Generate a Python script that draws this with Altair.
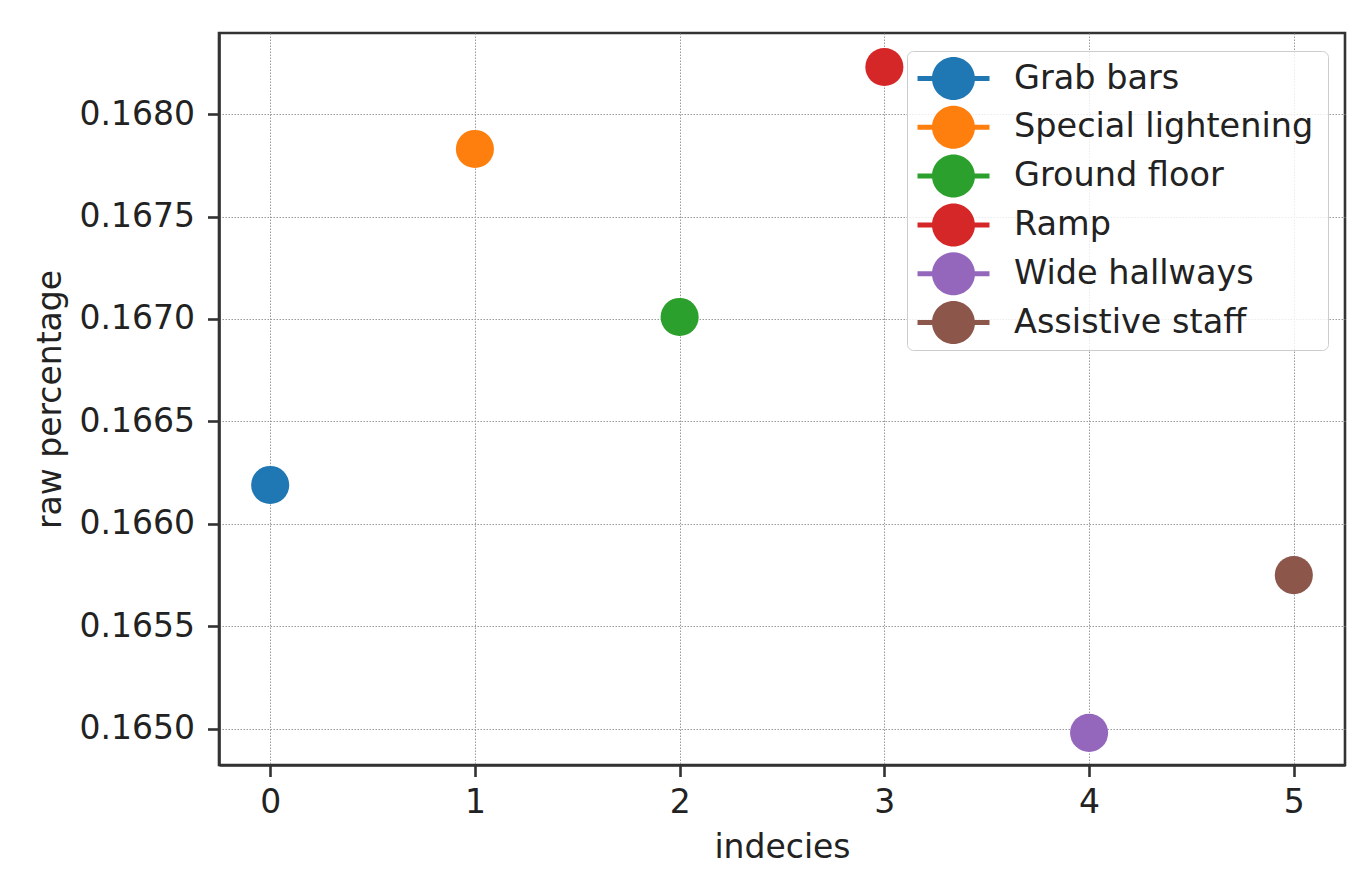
import altair as alt
import pandas as pd

categories = ["Grab bars", "Special lightening", "Ground floor", "Ramp", "Wide hallways", "Assistive staff"]
indices = [0, 1, 2, 3, 4, 5]
values = [0.16619, 0.16783, 0.16701, 0.16823, 0.16498, 0.16575]
colors = ["#1f77b4", "#ff7f0e", "#2ca02c", "#d62728", "#9467bd", "#8c564b"]
y_ticks = [0.1650, 0.1655, 0.1660, 0.1665, 0.1670, 0.1675, 0.1680]
x_ticks = [0, 1, 2, 3, 4, 5]

df = pd.DataFrame({"index": indices, "value": values, "category": categories})

FONT = "DejaVu Sans"
TXT = "#222222"
legend_symbol = ("M -1.674 -0.116 H 1.674 V 0.116 H -1.674 Z "
                 "M 1 0 A 1 1 0 1 1 -1 0 A 1 1 0 1 1 1 0 Z")

chart = alt.Chart(df).mark_circle(size=1452, opacity=1).encode(
    x=alt.X("index:Q",
            scale=alt.Scale(domain=[-0.25, 5.25], nice=False, zero=False),
            axis=alt.Axis(title="indecies", values=x_ticks, format="d",
                          labelPadding=10, titlePadding=12)),
    y=alt.Y("value:Q",
            scale=alt.Scale(domain=[0.164823, 0.168396], nice=False, zero=False),
            axis=alt.Axis(title="raw percentage", values=y_ticks, format=".4f",
                          labelPadding=13, titlePadding=12)),
    color=alt.Color("category:N",
                    scale=alt.Scale(domain=categories, range=colors),
                    sort=categories,
                    legend=alt.Legend(
                        orient="none", legendX=688, legendY=18,
                        title="\u2800", titleOrient="right", titleFontSize=11,
                        titlePadding=0, titleFont=FONT,
                        symbolType=legend_symbol, symbolSize=1849,
                        symbolStrokeWidth=0, symbolOffset=19,
                        labelFontSize=33.5, labelFont=FONT, labelColor=TXT,
                        labelOffset=39, labelLimit=500, rowPadding=5.8,
                        padding=6, fillColor="rgba(255,255,255,0.8)",
                        strokeColor="#cccccc", cornerRadius=6)),
).properties(
    width=1126, height=732,
    autosize=alt.AutoSizeParams(type="none"),
    padding={"left": 211, "top": 25, "right": 10, "bottom": 100},
).configure_view(
    stroke="#333333", strokeWidth=2.6
).configure_axis(
    labelFont=FONT, labelFontSize=33, labelColor=TXT,
    titleFont=FONT, titleFontSize=33, titleColor=TXT, titleFontWeight="normal",
    tickSize=11.5, tickWidth=2.6, tickColor="#333333",
    domainColor="#333333", domainWidth=2.6,
    grid=True, gridColor="#999999", gridDash=[1.5, 1.5], gridWidth=1,
)

chart.save("out.html", embed_options={"renderer": "svg", "actions": False})
